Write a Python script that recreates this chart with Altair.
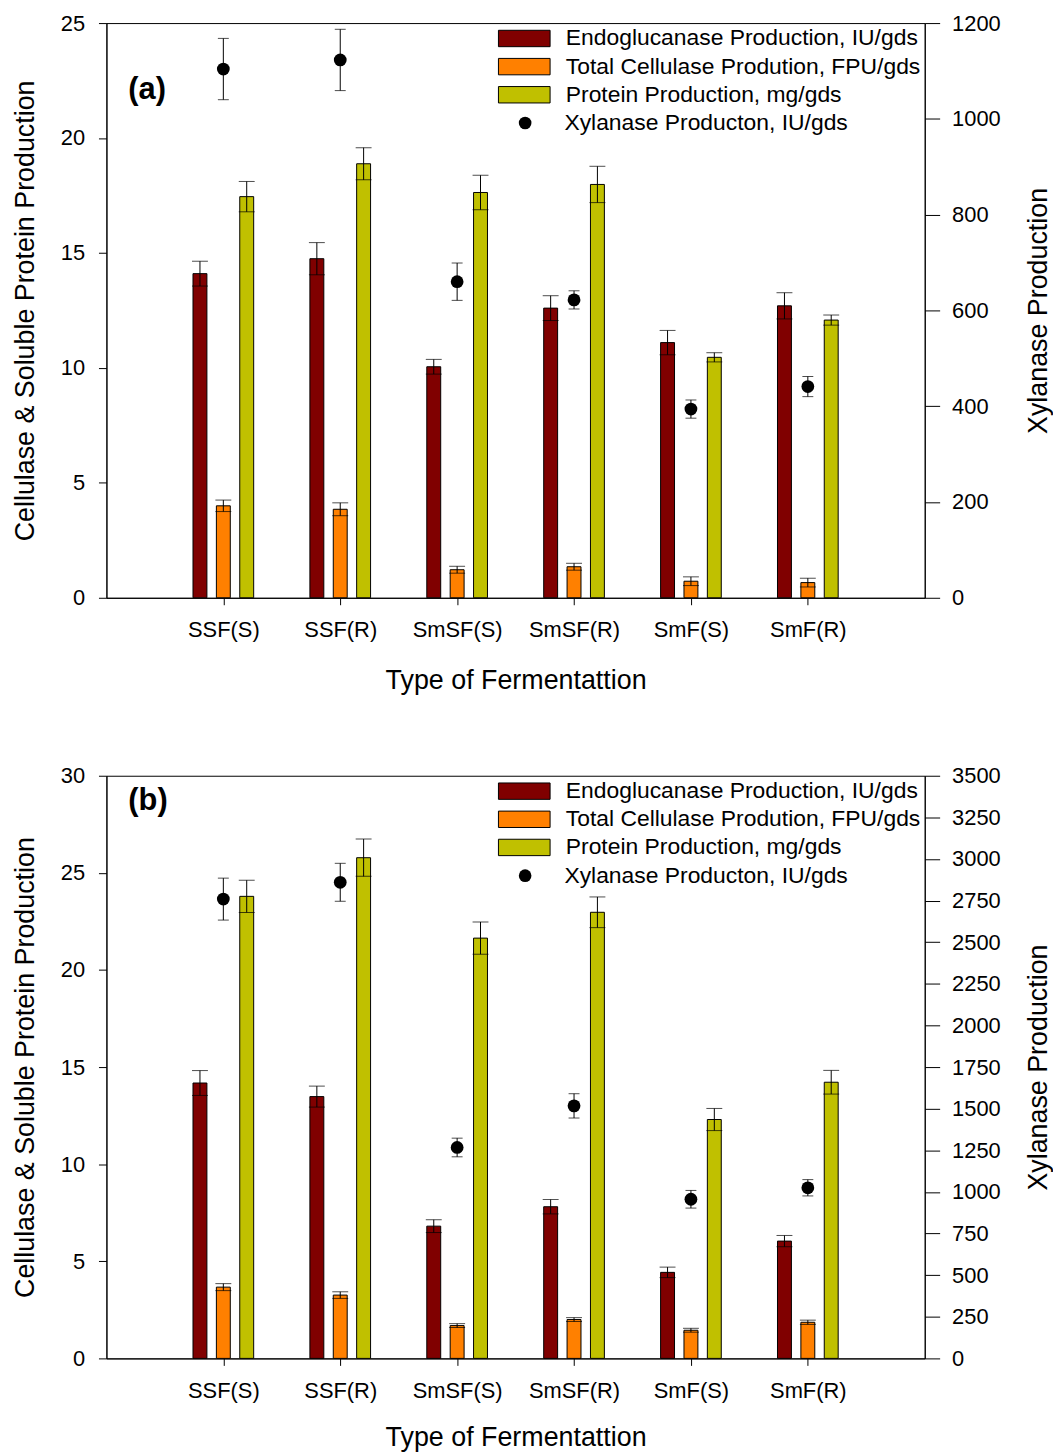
import json
import altair as alt
import pandas as pd

categories = ["SSF(S)", "SSF(R)", "SmSF(S)", "SmSF(R)", "SmF(S)", "SmF(R)"]
series_bars = ["Endoglucanase Production, IU/gds",
               "Total Cellulase Prodution, FPU/gds",
               "Protein Production, mg/gds"]
series_xyl = "Xylanase Producton, IU/gds"
bar_colors = ["#800000", "#FF8000", "#C0C000"]
bar_offsets = [-0.2, 0.0, 0.2]

# ---- panel (a) ----
a_endo = [14.1, 14.75, 10.05, 12.6, 11.1, 12.7]
a_endo_err = [0.54, 0.70, 0.32, 0.54, 0.53, 0.57]
a_fpu = [4.0, 3.85, 1.22, 1.35, 0.72, 0.66]
a_fpu_err = [0.25, 0.28, 0.15, 0.15, 0.19, 0.19]
a_prot = [17.45, 18.88, 17.63, 17.98, 10.46, 12.08]
a_prot_err = [0.66, 0.70, 0.75, 0.79, 0.20, 0.22]
a_xyl = [1104, 1123, 660, 622, 394, 441]
a_xyl_err = [64, 64, 39, 19, 19, 21]

# ---- panel (b) ----
b_endo = [14.18, 13.48, 6.81, 7.81, 4.43, 6.04]
b_endo_err = [0.64, 0.54, 0.33, 0.37, 0.27, 0.29]
b_fpu = [3.67, 3.26, 1.69, 2.00, 1.45, 1.86]
b_fpu_err = [0.18, 0.17, 0.10, 0.10, 0.10, 0.11]
b_prot = [23.79, 25.78, 21.64, 22.97, 12.30, 14.22]
b_prot_err = [0.83, 0.96, 0.83, 0.79, 0.57, 0.61]
b_xyl = [2759, 2860, 1267, 1517, 956, 1025]
b_xyl_err = [126, 114, 56, 73, 53, 49]

FONT = "Liberation Sans"


def make_panel(tag, endo, endo_e, fpu, fpu_e, prot, prot_e, xyl, xyl_e,
               left_max, left_step, right_max, right_step, height, tag_y, xt_pad):
    rows = []
    for s, off, vals, errs in zip(series_bars, bar_offsets,
                                  [endo, fpu, prot], [endo_e, fpu_e, prot_e]):
        for i, c in enumerate(categories):
            rows.append({"cat": c, "pos": i + 1 + off, "series": s,
                         "v": vals[i], "e": errs[i]})
    bars_df = pd.DataFrame(rows)
    xyl_df = pd.DataFrame({"cat": categories, "pos": list(range(1, 7)),
                           "series": series_xyl, "v": xyl, "e": xyl_e})

    x_axis = alt.Axis(title="Type of Fermentattion", values=list(range(1, 7)),
                      labelExpr=f"{json.dumps(categories)}[datum.value - 1]",
                      tickSize=7, labelPadding=15, titlePadding=xt_pad,
                      labelFontSize=22, titleFontSize=27, grid=False)
    x_scale = alt.Scale(domain=[0, 7], nice=False, zero=False, padding=0)
    X = alt.X("pos:Q", scale=x_scale, axis=x_axis)

    yl_scale = alt.Scale(domain=[0, left_max], nice=False, padding=0)
    yl_axis = alt.Axis(title="Cellulase & Soluble Protein Production", orient="left",
                       values=list(range(0, left_max + 1, left_step)),
                       tickSize=8, labelPadding=14, titlePadding=21,
                       labelFontSize=22, titleFontSize=27, grid=False)
    yr_scale = alt.Scale(domain=[0, right_max], nice=False, padding=0)
    yr_axis = alt.Axis(title="Xylanase Production", orient="right", format="d",
                       values=list(range(0, right_max + 1, right_step)),
                       tickSize=15, labelPadding=12, titlePadding=26,
                       titleAngle=270, titleBaseline="top",
                       labelFontSize=22, titleFontSize=27, grid=False)

    leg_bars = alt.Legend(title=None, orient="none", legendX=391, legendY=4,
                          symbolType="M-1,-1H5.3V1H-1Z", symbolSize=272,
                          symbolStrokeColor="black", symbolStrokeWidth=1,
                          labelFontSize=23, labelOffset=48, rowPadding=4.3,
                          labelLimit=600, padding=0, direction="vertical")
    leg_xyl = alt.Legend(title=None, orient="none", legendX=409.6, legendY=89,
                         symbolSize=161, symbolFillColor="black",
                         symbolStrokeColor="black", symbolStrokeWidth=0,
                         labelFontSize=23, labelOffset=28, labelLimit=600,
                         padding=0)

    base_b = alt.Chart(bars_df)
    bars = base_b.mark_bar(size=14, stroke="black", strokeWidth=1).encode(
        x=X,
        y=alt.Y("v:Q", scale=yl_scale, axis=yl_axis),
        color=alt.Color("series:N", scale=alt.Scale(domain=series_bars, range=bar_colors),
                        legend=leg_bars),
    )
    b_rule = base_b.transform_calculate(
        lo="datum.v - datum.e", hi="datum.v + datum.e"
    ).mark_rule(color="black", strokeWidth=1).encode(
        x=X, y=alt.Y("lo:Q", scale=yl_scale, axis=yl_axis), y2="hi:Q")
    b_caps = base_b.transform_calculate(
        lo="datum.v - datum.e", hi="datum.v + datum.e"
    ).transform_fold(["lo", "hi"], as_=["k", "val"]).mark_tick(
        orient="horizontal", size=16, thickness=1, color="black"
    ).encode(x=X, y=alt.Y("val:Q", scale=yl_scale, axis=yl_axis))
    tag_text = alt.Chart(pd.DataFrame({"t": [tag]})).mark_text(
        font=FONT, fontSize=31, fontWeight="bold", align="left",
        baseline="alphabetic", color="black"
    ).encode(x=alt.value(22), y=alt.value(tag_y), text="t:N")
    left = alt.layer(bars, b_rule, b_caps, tag_text)

    base_x = alt.Chart(xyl_df)
    x_rule = base_x.transform_calculate(
        lo="datum.v - datum.e", hi="datum.v + datum.e"
    ).mark_rule(color="black", strokeWidth=1).encode(
        x=X, y=alt.Y("lo:Q", scale=yr_scale, axis=yr_axis), y2="hi:Q")
    x_caps = base_x.transform_calculate(
        lo="datum.v - datum.e", hi="datum.v + datum.e"
    ).transform_fold(["lo", "hi"], as_=["k", "val"]).mark_tick(
        orient="horizontal", size=11, thickness=1, color="black"
    ).encode(x=X, y=alt.Y("val:Q", scale=yr_scale, axis=yr_axis))
    pts = base_x.mark_point(filled=True, size=165, color="black", opacity=1).encode(
        x=X,
        y=alt.Y("v:Q", scale=yr_scale, axis=yr_axis),
        shape=alt.Shape("series:N", scale=alt.Scale(domain=[series_xyl], range=["circle"]),
                        legend=leg_xyl),
    )
    right = alt.layer(x_rule, x_caps, pts)

    return alt.layer(left, right).resolve_scale(y="independent").properties(
        width=823, height=height)


pa = make_panel("(a)", a_endo, a_endo_err, a_fpu, a_fpu_err, a_prot, a_prot_err,
                a_xyl, a_xyl_err, 25, 5, 1200, 200, 578, 76, 27)
pb = make_panel("(b)", b_endo, b_endo_err, b_fpu, b_fpu_err, b_prot, b_prot_err,
                b_xyl, b_xyl_err, 30, 5, 3500, 250, 586, 34, 24)

chart = alt.vconcat(pa, pb, spacing=70).resolve_scale(
    color="independent", shape="independent"
).resolve_legend(color="independent", shape="independent").properties(
    padding={"left": 3, "top": -1, "right": 0, "bottom": 0}
).configure(font=FONT).configure_axis(
    domainColor="black", tickColor="black", labelColor="black", titleColor="black",
    titleFontWeight="normal", labelFont=FONT, titleFont=FONT
).configure_legend(labelFont=FONT, labelColor="black").configure_view(
    stroke="black", strokeWidth=1
)

chart.save("out.html", embed_options={"renderer": "svg", "actions": False})
